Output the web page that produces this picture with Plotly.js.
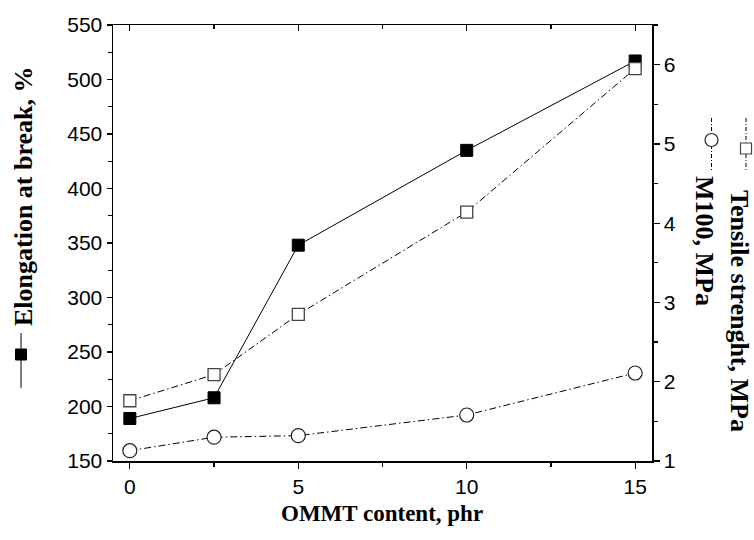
<!DOCTYPE html>
<html>
<head>
<meta charset="utf-8">
<script src="https://cdn.plot.ly/plotly-3.0.1.min.js"></script>
<style>html,body{margin:0;padding:0;background:#fff;}</style>
</head>
<body>
<div id="chart" style="width:754px;height:540px;"></div>
<script>
// Data
const ommt = [0, 2.5, 5, 10, 15];
const elongation = [189, 208, 348, 435, 517];      // %, left axis
const tensile = [1.76, 2.09, 2.85, 4.14, 5.95];   // MPa, right axis
const m100 = [1.13, 1.30, 1.32, 1.58, 2.11];      // MPa, right axis

const xTicks = [0, 5, 10, 15];
const yLeftTicks = [150, 200, 250, 300, 350, 400, 450, 500, 550];
const yRightTicks = [1, 2, 3, 4, 5, 6];

const DD = "7px,3px,1.5px,3px";
const W = 754, H = 540, L = 113, R = 652, T = 25, B = 461;
const px = v => (v - L) / (R - L);
const py = v => (B - v) / (B - T);

const traces = [
  {x: ommt, y: elongation, xaxis: 'x', yaxis: 'y', mode: 'lines+markers',
   line: {color: '#000', width: 1},
   marker: {symbol: 'square', size: 12, color: '#000', line: {color: '#000', width: 1}},
   hoverinfo: 'skip', showlegend: false},
  {x: ommt, y: tensile, xaxis: 'x', yaxis: 'y2', mode: 'lines+markers',
   line: {color: '#000', width: 1, dash: DD},
   marker: {symbol: 'square', size: 12, color: '#fff', line: {color: '#444', width: 1.3}},
   hoverinfo: 'skip', showlegend: false},
  {x: ommt, y: m100, xaxis: 'x', yaxis: 'y2', mode: 'lines+markers',
   line: {color: '#000', width: 1, dash: DD},
   marker: {symbol: 'circle', size: 14, color: '#fff', line: {color: '#222', width: 1.2}},
   hoverinfo: 'skip', showlegend: false},
  // carrier for the top frame axis
  {x: ommt, y: elongation, xaxis: 'x2', yaxis: 'y', mode: 'lines',
   line: {width: 0}, opacity: 0, hoverinfo: 'skip', showlegend: false}
];

const tickFont = {family: 'Liberation Sans, Arial, sans-serif', size: 21, color: '#000'};
const titleFontX = {family: 'Liberation Serif, Times New Roman, serif', size: 23, color: '#000'};
const titleFontY = {family: 'Liberation Serif, Times New Roman, serif', size: 26, color: '#000'};

const layout = {
  width: W, height: H,
  margin: {l: L, r: W - R, t: T, b: H - B, pad: 0},
  paper_bgcolor: '#fff', plot_bgcolor: '#fff',
  showlegend: false,
  xaxis: {
    range: [-0.5, 15.5], tickvals: xTicks, ticktext: xTicks.map(String),
    ticks: 'outside', ticklen: 6, tickwidth: 1.3, tickcolor: '#000',
    minor: {tickvals: [2.5, 7.5, 12.5], ticks: 'outside', ticklen: 4, tickwidth: 1.3, tickcolor: '#000'},
    showline: true, linecolor: '#000', linewidth: 1.5,
    showgrid: false, zeroline: false, tickfont: tickFont, anchor: 'y'
  },
  xaxis2: {
    matches: 'x', overlaying: 'x', side: 'top', anchor: 'y',
    range: [-0.5, 15.5], tickvals: xTicks, showticklabels: false,
    ticks: 'inside', ticklen: 6, tickwidth: 1.3, tickcolor: '#000',
    minor: {tickvals: [2.5, 7.5, 12.5], ticks: 'inside', ticklen: 4, tickwidth: 1.3, tickcolor: '#000'},
    showline: true, linecolor: '#000', linewidth: 1.5,
    showgrid: false, zeroline: false
  },
  yaxis: {
    range: [150, 550], tickvals: yLeftTicks, ticktext: yLeftTicks.map(String),
    ticks: 'outside', ticklen: 5, tickwidth: 1.3, tickcolor: '#000',
    minor: {dtick: 25, ticks: 'outside', ticklen: 4, tickwidth: 1.3, tickcolor: '#000'},
    showline: true, linecolor: '#000', linewidth: 1.5,
    showgrid: false, zeroline: false, tickfont: tickFont, anchor: 'x'
  },
  yaxis2: {
    range: [1, 6.5], tickvals: yRightTicks, ticktext: yRightTicks.map(String),
    overlaying: 'y', side: 'right', anchor: 'x',
    ticks: 'outside', ticklen: 6, tickwidth: 1.3, tickcolor: '#000',
    minor: {dtick: 0.5, ticks: 'outside', ticklen: 4, tickwidth: 1.3, tickcolor: '#000'},
    showline: true, linecolor: '#000', linewidth: 1.5,
    showgrid: false, zeroline: false, tickfont: tickFont
  },
  annotations: [
    {text: '<b>OMMT content, phr</b>', xref: 'paper', yref: 'paper',
     x: px(382), y: py(513), xanchor: 'center', yanchor: 'middle',
     showarrow: false, font: titleFontX},
    {text: '<b>Elongation at break, %</b>', xref: 'paper', yref: 'paper',
     x: px(23), y: py(196), xanchor: 'center', yanchor: 'middle', textangle: -90,
     showarrow: false, font: titleFontY},
    {text: '<b>Tensile strenght, MPa</b>', xref: 'paper', yref: 'paper',
     x: px(740), y: py(311), xanchor: 'center', yanchor: 'middle', textangle: 90,
     showarrow: false, font: titleFontY},
    {text: '<b>M100, MPa</b>', xref: 'paper', yref: 'paper',
     x: px(705), y: py(241), xanchor: 'center', yanchor: 'middle', textangle: 90,
     showarrow: false, font: titleFontY}
  ],
  shapes: [
    // left title symbol: solid line with filled square
    {type: 'line', xref: 'paper', yref: 'paper', x0: px(21), x1: px(21), y0: py(333), y1: py(388),
     line: {color: '#000', width: 1}},
    {type: 'rect', xref: 'paper', yref: 'paper', x0: px(15.5), x1: px(26.5), y0: py(349), y1: py(360),
     fillcolor: '#000', line: {color: '#000', width: 1}},
    // tensile symbol: dash-dot line with open square
    {type: 'line', xref: 'paper', yref: 'paper', x0: px(746), x1: px(746), y0: py(118), y1: py(171),
     line: {color: '#000', width: 1, dash: '4px,2px,1px,2px'}},
    {type: 'rect', xref: 'paper', yref: 'paper', x0: px(740.5), x1: px(751.5), y0: py(143), y1: py(154),
     fillcolor: '#fff', line: {color: '#444', width: 1.2}},
    // M100 symbol: dash-dot line with open circle
    {type: 'line', xref: 'paper', yref: 'paper', x0: px(711.5), x1: px(711.5), y0: py(118), y1: py(171),
     line: {color: '#000', width: 1, dash: '4px,2px,1px,2px'}},
    {type: 'circle', xref: 'paper', yref: 'paper', x0: px(705), x1: px(718), y0: py(133.5), y1: py(146.5),
     fillcolor: '#fff', line: {color: '#222', width: 1.2}}
  ]
};

Plotly.newPlot('chart', traces, layout, {staticPlot: true, displayModeBar: false});
</script>
</body>
</html>
